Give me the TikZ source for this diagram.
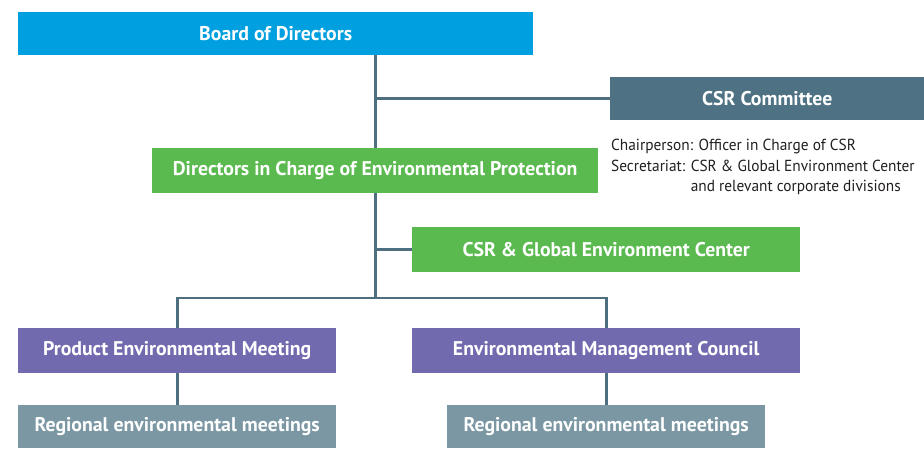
\documentclass[tikz,border=0pt]{standalone}
\usepackage{fontspec}
\setmainfont{PT Sans}
\newfontfamily\notefont{PT Sans}[FakeStretch=0.96]
\definecolor{boardc}{HTML}{00A0E0}
\definecolor{csrc}{HTML}{4E7183}
\definecolor{greenc}{HTML}{5BBA4F}
\definecolor{purplec}{HTML}{716AAF}
\definecolor{regc}{HTML}{7A97A3}
\definecolor{linec}{HTML}{4E6F7F}
\definecolor{textc}{HTML}{231F20}
\begin{document}
\begin{tikzpicture}[x=1pt,y=-1pt,
  box/.style={draw=none, inner sep=0pt, anchor=north west, text=white,
    font=\bfseries\fontsize{19.8}{22}\selectfont},
  conn/.style={draw=linec, line width=2.6pt}]
\fill[white] (0,0) rectangle (924,448);
\useasboundingbox (0,0) rectangle (924,448);
\node[box, fill=boardc, minimum width=515, minimum height=43] (board) at (18,12) {Board of Directors};
\node[box, fill=csrc, minimum width=314, minimum height=43] (csr) at (610,77) {CSR Committee};
\node[box, fill=greenc, minimum width=446, minimum height=45] (dirs) at (152,148) {Directors in Charge of Environmental Protection};
\node[box, fill=greenc, minimum width=388, minimum height=45] (center) at (412,227) {CSR \& Global Environment Center};
\node[box, fill=purplec, minimum width=318, minimum height=45] (prod) at (18,328) {Product Environmental Meeting};
\node[box, fill=purplec, minimum width=388, minimum height=45] (emc) at (412,328) {Environmental Management Council};
\node[box, fill=regc, minimum width=318, minimum height=43] (reg1) at (18,405) {Regional environmental meetings};
\node[box, fill=regc, minimum width=318, minimum height=43] (reg2) at (447,405) {Regional environmental meetings};
\node[anchor=north west, inner sep=0pt, align=left, text=textc,
  font=\notefont\fontsize{16}{20.5}\selectfont] (note) at (611,139)
  {Chairperson: Officer in Charge of CSR\\
   Secretariat: CSR \& Global Environment Center\\
   \phantom{Secretariat: }and relevant corporate divisions};
\coordinate (bus) at (375,298);
\draw[conn] (dirs.north) -- (dirs.north |- board.south);
\draw[conn] (csr.west) -- (csr.west -| dirs.north);
\draw[conn] (dirs.south) -- (dirs.south |- bus);
\draw[conn] (center.west) -- (center.west -| dirs.south);
\draw[conn] (prod.north) -- (prod.north |- bus) -- (emc.north |- bus) -- (emc.north);
\draw[conn] (prod.south) -- (reg1.north);
\draw[conn] (emc.south) -- (reg2.north);
\end{tikzpicture}
\end{document}
